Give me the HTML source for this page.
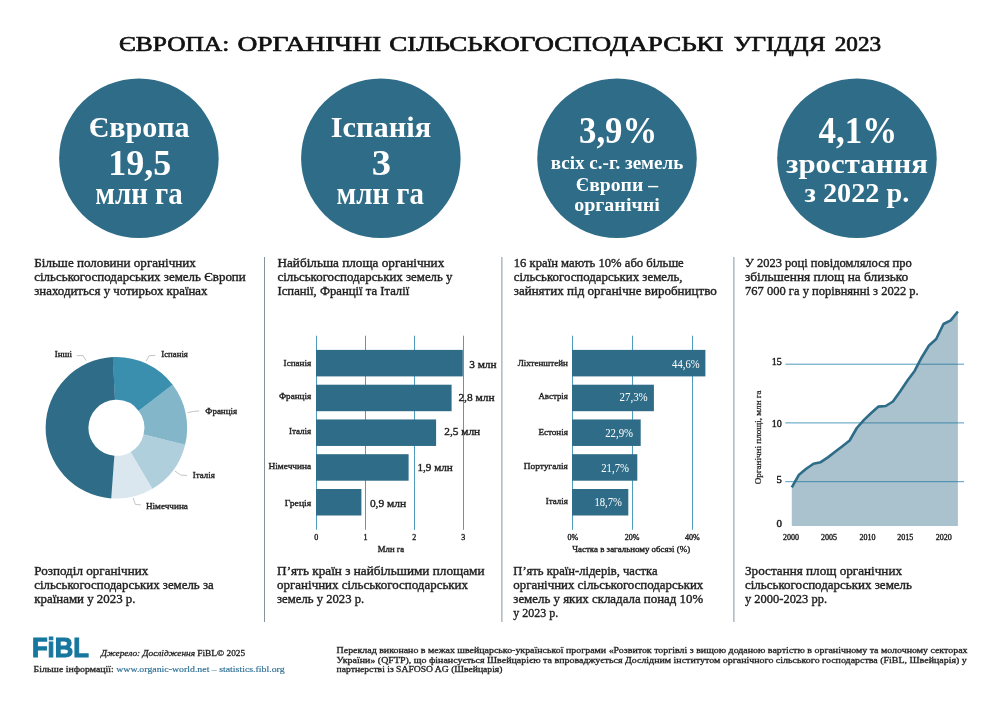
<!DOCTYPE html>
<html lang="uk">
<head>
<meta charset="utf-8">
<title>Європа: органічні сільськогосподарські угіддя 2023</title>
<style>
html,body{margin:0;padding:0;background:#fff;}
body{width:1000px;height:707px;overflow:hidden;}
svg{display:block;font-family:'Liberation Serif', serif;fill:#1f1f1f;}
svg text{white-space:pre;}
</style>
</head>
<body>
<svg width="1000" height="707" viewBox="0 0 1000 707">
<rect width="1000" height="707" fill="#ffffff"/>
<text y="50.8" font-size="22" fill="#111" stroke="#111" stroke-width="0.7"><tspan x="119.0" textLength="110.2" lengthAdjust="spacingAndGlyphs">ЄВРОПА:</tspan> <tspan x="237.4" textLength="143.9" lengthAdjust="spacingAndGlyphs">ОРГАНІЧНІ</tspan> <tspan x="389.3" textLength="334.3" lengthAdjust="spacingAndGlyphs">СІЛЬСЬКОГОСПОДАРСЬКІ</tspan> <tspan x="733.7" textLength="91.7" lengthAdjust="spacingAndGlyphs">УГІДДЯ</tspan> <tspan x="834.7" textLength="46.4" lengthAdjust="spacingAndGlyphs">2023</tspan></text>
<circle cx="138.9" cy="158.25" r="79.75" fill="#2e6c88"/>
<circle cx="380.85" cy="158.25" r="79.75" fill="#2e6c88"/>
<circle cx="617.0" cy="158.25" r="79.75" fill="#2e6c88"/>
<circle cx="856.95" cy="158.25" r="79.75" fill="#2e6c88"/>
<text x="88.70" y="137.20" font-size="29" font-weight="bold" fill="#ffffff" textLength="101.00" lengthAdjust="spacingAndGlyphs">Європа</text>
<text x="108.20" y="174.90" font-size="36.8" font-weight="bold" fill="#ffffff" textLength="63.00" lengthAdjust="spacingAndGlyphs">19,5</text>
<text x="95.20" y="204.20" font-size="30.5" font-weight="bold" fill="#ffffff" textLength="87.50" lengthAdjust="spacingAndGlyphs">млн га</text>
<text x="330.70" y="137.20" font-size="29" font-weight="bold" fill="#ffffff" textLength="100.50" lengthAdjust="spacingAndGlyphs">Іспанія</text>
<text x="371.70" y="174.90" font-size="36.8" font-weight="bold" fill="#ffffff" textLength="19.30" lengthAdjust="spacingAndGlyphs">3</text>
<text x="336.60" y="204.20" font-size="30.5" font-weight="bold" fill="#ffffff" textLength="87.30" lengthAdjust="spacingAndGlyphs">млн га</text>
<text x="579.00" y="142.80" font-size="37.5" font-weight="bold" fill="#ffffff" textLength="78.30" lengthAdjust="spacingAndGlyphs">3,9%</text>
<text x="550.80" y="169.00" font-size="19.5" font-weight="bold" fill="#ffffff" textLength="132.50" lengthAdjust="spacingAndGlyphs">всіх с.-г. земель</text>
<text x="575.80" y="190.70" font-size="19.5" font-weight="bold" fill="#ffffff" textLength="82.20" lengthAdjust="spacingAndGlyphs">Європи –</text>
<text x="574.20" y="211.30" font-size="19.5" font-weight="bold" fill="#ffffff" textLength="85.60" lengthAdjust="spacingAndGlyphs">органічні</text>
<text x="818.60" y="142.80" font-size="37.5" font-weight="bold" fill="#ffffff" textLength="78.70" lengthAdjust="spacingAndGlyphs">4,1%</text>
<text x="786.00" y="172.50" font-size="26.5" font-weight="bold" fill="#ffffff" textLength="141.90" lengthAdjust="spacingAndGlyphs">зростання</text>
<text x="804.60" y="201.90" font-size="27" font-weight="bold" fill="#ffffff" textLength="104.70" lengthAdjust="spacingAndGlyphs">з 2022 р.</text>
<rect x="264.00" y="257.00" width="1.00" height="365.00" fill="#84949d"/>
<rect x="501.40" y="257.00" width="1.00" height="365.00" fill="#84949d"/>
<rect x="733.40" y="257.00" width="1.00" height="365.00" fill="#84949d"/>
<text x="34.25" y="267.45" font-size="12.5" textLength="161.50" lengthAdjust="spacingAndGlyphs" stroke="#1f1f1f" stroke-width="0.38">Більше половини органічних</text>
<text x="34.25" y="281.45" font-size="12.5" textLength="211.50" lengthAdjust="spacingAndGlyphs" stroke="#1f1f1f" stroke-width="0.38">сільськогосподарських земель Європи</text>
<text x="34.25" y="295.45" font-size="12.5" textLength="173.25" lengthAdjust="spacingAndGlyphs" stroke="#1f1f1f" stroke-width="0.38">знаходиться у чотирьох країнах</text>
<text x="277.50" y="267.45" font-size="12.5" textLength="166.75" lengthAdjust="spacingAndGlyphs" stroke="#1f1f1f" stroke-width="0.38">Найбільша площа органічних</text>
<text x="277.50" y="281.45" font-size="12.5" textLength="175.00" lengthAdjust="spacingAndGlyphs" stroke="#1f1f1f" stroke-width="0.38">сільськогосподарських земель у</text>
<text x="277.50" y="295.45" font-size="12.5" textLength="131.75" lengthAdjust="spacingAndGlyphs" stroke="#1f1f1f" stroke-width="0.38">Іспанії, Франції та Італії</text>
<text x="513.75" y="267.45" font-size="12.5" textLength="170.00" lengthAdjust="spacingAndGlyphs" stroke="#1f1f1f" stroke-width="0.38">16 країн мають 10% або більше</text>
<text x="513.75" y="281.45" font-size="12.5" textLength="168.75" lengthAdjust="spacingAndGlyphs" stroke="#1f1f1f" stroke-width="0.38">сільськогосподарських земель,</text>
<text x="513.75" y="295.45" font-size="12.5" textLength="203.00" lengthAdjust="spacingAndGlyphs" stroke="#1f1f1f" stroke-width="0.38">зайнятих під органічне виробництво</text>
<text x="745.00" y="267.45" font-size="12.5" textLength="166.75" lengthAdjust="spacingAndGlyphs" stroke="#1f1f1f" stroke-width="0.38">У 2023 році повідомлялося про</text>
<text x="745.00" y="281.45" font-size="12.5" textLength="163.25" lengthAdjust="spacingAndGlyphs" stroke="#1f1f1f" stroke-width="0.38">збільшення площ на близько</text>
<text x="745.00" y="295.45" font-size="12.5" textLength="173.75" lengthAdjust="spacingAndGlyphs" stroke="#1f1f1f" stroke-width="0.38">767 000 га у порівнянні з 2022 р.</text>
<text x="34.25" y="575.20" font-size="12.5" textLength="114.00" lengthAdjust="spacingAndGlyphs" stroke="#1f1f1f" stroke-width="0.38">Розподіл органічних</text>
<text x="34.25" y="589.20" font-size="12.5" textLength="179.50" lengthAdjust="spacingAndGlyphs" stroke="#1f1f1f" stroke-width="0.38">сільськогосподарських земель за</text>
<text x="34.25" y="603.20" font-size="12.5" textLength="101.25" lengthAdjust="spacingAndGlyphs" stroke="#1f1f1f" stroke-width="0.38">країнами у 2023 р.</text>
<text x="277.10" y="575.20" font-size="12.5" textLength="207.40" lengthAdjust="spacingAndGlyphs" stroke="#1f1f1f" stroke-width="0.38">П’ять країн з найбільшими площами</text>
<text x="277.10" y="589.20" font-size="12.5" textLength="190.90" lengthAdjust="spacingAndGlyphs" stroke="#1f1f1f" stroke-width="0.38">органічних сільськогосподарських</text>
<text x="277.10" y="603.20" font-size="12.5" textLength="87.15" lengthAdjust="spacingAndGlyphs" stroke="#1f1f1f" stroke-width="0.38">земель у 2023 р.</text>
<text x="513.30" y="575.20" font-size="12.5" textLength="144.20" lengthAdjust="spacingAndGlyphs" stroke="#1f1f1f" stroke-width="0.38">П’ять країн-лідерів, частка</text>
<text x="513.30" y="589.20" font-size="12.5" textLength="189.95" lengthAdjust="spacingAndGlyphs" stroke="#1f1f1f" stroke-width="0.38">органічних сільськогосподарських</text>
<text x="513.30" y="603.20" font-size="12.5" textLength="189.95" lengthAdjust="spacingAndGlyphs" stroke="#1f1f1f" stroke-width="0.38">земель у яких складала понад 10%</text>
<text x="513.30" y="617.20" font-size="12.5" textLength="44.95" lengthAdjust="spacingAndGlyphs" stroke="#1f1f1f" stroke-width="0.38">у 2023 р.</text>
<text x="745.00" y="575.20" font-size="12.5" textLength="157.00" lengthAdjust="spacingAndGlyphs" stroke="#1f1f1f" stroke-width="0.38">Зростання площ органічних</text>
<text x="745.00" y="589.20" font-size="12.5" textLength="167.00" lengthAdjust="spacingAndGlyphs" stroke="#1f1f1f" stroke-width="0.38">сільськогосподарських земель</text>
<text x="745.00" y="603.20" font-size="12.5" textLength="82.00" lengthAdjust="spacingAndGlyphs" stroke="#1f1f1f" stroke-width="0.38">у 2000-2023 рр.</text>
<path d="M112.69,357.10 A70.8,70.8 0 0 1 172.87,385.09 L138.73,410.91 A28.0,28.0 0 0 0 114.93,399.84 Z" fill="#3b8fae"/>
<path d="M172.49,384.60 A70.8,70.8 0 0 1 185.07,445.05 L143.56,434.62 A28.0,28.0 0 0 0 138.58,410.72 Z" fill="#84b6ca"/>
<path d="M185.21,444.45 A70.8,70.8 0 0 1 152.01,488.99 L130.48,452.00 A28.0,28.0 0 0 0 143.61,434.38 Z" fill="#b0cfdc"/>
<path d="M152.55,488.68 A70.8,70.8 0 0 1 110.60,498.36 L114.11,455.71 A28.0,28.0 0 0 0 130.70,451.88 Z" fill="#dae7ef"/>
<path d="M111.21,498.41 A70.8,70.8 0 0 1 112.88,357.09 L115.01,399.83 A28.0,28.0 0 0 0 114.35,455.72 Z" fill="#2e6c88"/>
<path d="M86.2,360.6 L83.0,355.6 L76.6,355.7" fill="none" stroke="#b5b5b5" stroke-width="0.8"/>
<path d="M146.2,361.2 L149.0,355.8 L155.4,355.3" fill="none" stroke="#b5b5b5" stroke-width="0.8"/>
<path d="M187.6,412.6 L193.6,411.4 L199.2,411.0" fill="none" stroke="#b5b5b5" stroke-width="0.8"/>
<path d="M174.9,471.0 L180.5,475.0 L186.9,475.5" fill="none" stroke="#b5b5b5" stroke-width="0.8"/>
<path d="M133.1,497.9 L135.3,504.3 L140.9,505.0" fill="none" stroke="#b5b5b5" stroke-width="0.8"/>
<text x="54.80" y="356.80" font-size="9.2" textLength="17.20" lengthAdjust="spacingAndGlyphs" stroke="#1f1f1f" stroke-width="0.38">Інші</text>
<text x="161.30" y="357.30" font-size="9.2" textLength="26.60" lengthAdjust="spacingAndGlyphs" stroke="#1f1f1f" stroke-width="0.38">Іспанія</text>
<text x="205.30" y="413.60" font-size="9.2" textLength="31.80" lengthAdjust="spacingAndGlyphs" stroke="#1f1f1f" stroke-width="0.38">Франція</text>
<text x="192.80" y="478.10" font-size="9.2" textLength="22.00" lengthAdjust="spacingAndGlyphs" stroke="#1f1f1f" stroke-width="0.38">Італія</text>
<text x="145.90" y="508.50" font-size="9.2" textLength="42.00" lengthAdjust="spacingAndGlyphs" stroke="#1f1f1f" stroke-width="0.38">Німеччина</text>
<rect x="316.00" y="335.70" width="1.00" height="194.10" fill="#4f9cbd"/>
<rect x="365.00" y="335.70" width="1.00" height="194.10" fill="#4f9cbd"/>
<rect x="414.00" y="335.70" width="1.00" height="194.10" fill="#4f9cbd"/>
<rect x="463.00" y="335.70" width="1.00" height="194.10" fill="#4f9cbd"/>
<rect x="316.00" y="349.90" width="146.80" height="26.50" fill="#2e6c88"/>
<rect x="316.00" y="384.70" width="135.60" height="26.50" fill="#2e6c88"/>
<rect x="316.00" y="419.45" width="120.10" height="26.50" fill="#2e6c88"/>
<rect x="316.00" y="454.20" width="92.60" height="26.50" fill="#2e6c88"/>
<rect x="316.00" y="489.00" width="45.40" height="26.50" fill="#2e6c88"/>
<text x="283.60" y="365.80" font-size="9.2" textLength="27.60" lengthAdjust="spacingAndGlyphs" stroke="#1f1f1f" stroke-width="0.38">Іспанія</text>
<text x="278.90" y="399.25" font-size="9.2" textLength="32.30" lengthAdjust="spacingAndGlyphs" stroke="#1f1f1f" stroke-width="0.38">Франція</text>
<text x="288.90" y="434.10" font-size="9.2" textLength="22.30" lengthAdjust="spacingAndGlyphs" stroke="#1f1f1f" stroke-width="0.38">Італія</text>
<text x="268.50" y="468.55" font-size="9.2" textLength="42.70" lengthAdjust="spacingAndGlyphs" stroke="#1f1f1f" stroke-width="0.38">Німеччина</text>
<text x="284.80" y="505.70" font-size="9.2" textLength="26.40" lengthAdjust="spacingAndGlyphs" stroke="#1f1f1f" stroke-width="0.38">Греція</text>
<text x="469.20" y="367.80" font-size="11" textLength="27.40" lengthAdjust="spacingAndGlyphs" stroke="#1f1f1f" stroke-width="0.38">3 млн</text>
<text x="458.40" y="400.75" font-size="11" textLength="36.20" lengthAdjust="spacingAndGlyphs" stroke="#1f1f1f" stroke-width="0.38">2,8 млн</text>
<text x="444.30" y="435.20" font-size="11" textLength="35.90" lengthAdjust="spacingAndGlyphs" stroke="#1f1f1f" stroke-width="0.38">2,5 млн</text>
<text x="417.40" y="470.75" font-size="11" textLength="35.40" lengthAdjust="spacingAndGlyphs" stroke="#1f1f1f" stroke-width="0.38">1,9 млн</text>
<text x="369.90" y="507.30" font-size="11" textLength="36.20" lengthAdjust="spacingAndGlyphs" stroke="#1f1f1f" stroke-width="0.38">0,9 млн</text>
<text x="316.30" y="539.80" font-size="8" text-anchor="middle" stroke="#1f1f1f" stroke-width="0.38">0</text>
<text x="365.40" y="539.80" font-size="8" text-anchor="middle" stroke="#1f1f1f" stroke-width="0.38">1</text>
<text x="414.30" y="539.80" font-size="8" text-anchor="middle" stroke="#1f1f1f" stroke-width="0.38">2</text>
<text x="463.30" y="539.80" font-size="8" text-anchor="middle" stroke="#1f1f1f" stroke-width="0.38">3</text>
<text x="377.80" y="552.30" font-size="8.6" textLength="26.40" lengthAdjust="spacingAndGlyphs" stroke="#1f1f1f" stroke-width="0.38">Млн га</text>
<rect x="572.00" y="335.70" width="1.00" height="194.10" fill="#4f9cbd"/>
<rect x="632.00" y="335.70" width="1.00" height="194.10" fill="#4f9cbd"/>
<rect x="692.00" y="335.70" width="1.00" height="194.10" fill="#4f9cbd"/>
<rect x="572.00" y="349.90" width="133.40" height="26.50" fill="#2e6c88"/>
<rect x="572.00" y="384.70" width="81.90" height="26.50" fill="#2e6c88"/>
<rect x="572.00" y="419.45" width="68.70" height="26.50" fill="#2e6c88"/>
<rect x="572.00" y="454.20" width="65.30" height="26.50" fill="#2e6c88"/>
<rect x="572.00" y="489.00" width="56.30" height="26.50" fill="#2e6c88"/>
<text x="517.70" y="365.50" font-size="9.2" textLength="50.20" lengthAdjust="spacingAndGlyphs" stroke="#1f1f1f" stroke-width="0.38">Ліхтенштейн</text>
<text x="538.40" y="399.45" font-size="9.2" textLength="29.50" lengthAdjust="spacingAndGlyphs" stroke="#1f1f1f" stroke-width="0.38">Австрія</text>
<text x="538.40" y="434.70" font-size="9.2" textLength="29.50" lengthAdjust="spacingAndGlyphs" stroke="#1f1f1f" stroke-width="0.38">Естонія</text>
<text x="523.80" y="469.35" font-size="9.2" textLength="44.10" lengthAdjust="spacingAndGlyphs" stroke="#1f1f1f" stroke-width="0.38">Португалія</text>
<text x="545.80" y="504.40" font-size="9.2" textLength="22.10" lengthAdjust="spacingAndGlyphs" stroke="#1f1f1f" stroke-width="0.38">Італія</text>
<text x="672.10" y="367.90" font-size="11.5" fill="#ffffff" textLength="27.50" lengthAdjust="spacingAndGlyphs" stroke="#ffffff" stroke-width="0.01">44,6%</text>
<text x="619.50" y="401.00" font-size="11.5" fill="#ffffff" textLength="28.20" lengthAdjust="spacingAndGlyphs" stroke="#ffffff" stroke-width="0.01">27,3%</text>
<text x="605.20" y="436.50" font-size="11.5" fill="#ffffff" textLength="27.90" lengthAdjust="spacingAndGlyphs" stroke="#ffffff" stroke-width="0.01">22,9%</text>
<text x="601.20" y="471.50" font-size="11.5" fill="#ffffff" textLength="27.80" lengthAdjust="spacingAndGlyphs" stroke="#ffffff" stroke-width="0.01">21,7%</text>
<text x="594.40" y="506.30" font-size="11.5" fill="#ffffff" textLength="27.50" lengthAdjust="spacingAndGlyphs" stroke="#ffffff" stroke-width="0.01">18,7%</text>
<text x="572.80" y="539.60" font-size="8" text-anchor="middle" stroke="#1f1f1f" stroke-width="0.38">0%</text>
<text x="632.00" y="539.60" font-size="8" text-anchor="middle" stroke="#1f1f1f" stroke-width="0.38">20%</text>
<text x="692.40" y="539.60" font-size="8" text-anchor="middle" stroke="#1f1f1f" stroke-width="0.38">40%</text>
<text x="572.30" y="551.70" font-size="8.6" textLength="117.80" lengthAdjust="spacingAndGlyphs" stroke="#1f1f1f" stroke-width="0.38">Частка в загальному обсязі (%)</text>
<line x1="785.30" y1="481.70" x2="964.00" y2="481.70" stroke="#4f9cbd" stroke-width="1"/>
<line x1="785.30" y1="422.90" x2="964.00" y2="422.90" stroke="#4f9cbd" stroke-width="1"/>
<line x1="785.30" y1="364.20" x2="964.00" y2="364.20" stroke="#4f9cbd" stroke-width="1"/>
<polygon points="791.8,526.1 791.8,487.3 799.0,474.7 806.2,468.8 813.5,463.7 820.7,462.2 827.9,457.4 835.1,451.8 842.4,446.2 849.6,440.5 856.8,428.0 864.0,419.9 871.2,413.0 878.5,406.6 885.7,406.0 892.9,401.5 900.1,391.5 907.3,380.8 914.6,370.9 921.8,357.2 929.0,345.5 936.2,339.0 943.5,324.0 950.7,320.4 957.9,311.5 957.9,526.1" fill="#2e6c88" fill-opacity="0.41"/>
<polyline points="791.8,487.3 799.0,474.7 806.2,468.8 813.5,463.7 820.7,462.2 827.9,457.4 835.1,451.8 842.4,446.2 849.6,440.5 856.8,428.0 864.0,419.9 871.2,413.0 878.5,406.6 885.7,406.0 892.9,401.5 900.1,391.5 907.3,380.8 914.6,370.9 921.8,357.2 929.0,345.5 936.2,339.0 943.5,324.0 950.7,320.4 957.9,311.5" fill="none" stroke="#2e6c88" stroke-width="2.6" stroke-linejoin="round" stroke-linecap="butt"/>
<text x="771.80" y="364.50" font-size="10.5" textLength="10.10" lengthAdjust="spacingAndGlyphs" stroke="#1f1f1f" stroke-width="0.45">15</text>
<text x="771.80" y="426.70" font-size="10.5" textLength="10.10" lengthAdjust="spacingAndGlyphs" stroke="#1f1f1f" stroke-width="0.45">10</text>
<text x="776.60" y="482.50" font-size="10.5" textLength="5.30" lengthAdjust="spacingAndGlyphs" stroke="#1f1f1f" stroke-width="0.45">5</text>
<text x="776.40" y="527.10" font-size="10.5" textLength="5.50" lengthAdjust="spacingAndGlyphs" stroke="#1f1f1f" stroke-width="0.45">0</text>
<text x="791.00" y="539.80" font-size="8" text-anchor="middle" stroke="#1f1f1f" stroke-width="0.38">2000</text>
<text x="828.90" y="539.80" font-size="8" text-anchor="middle" stroke="#1f1f1f" stroke-width="0.38">2005</text>
<text x="867.60" y="539.80" font-size="8" text-anchor="middle" stroke="#1f1f1f" stroke-width="0.38">2010</text>
<text x="905.20" y="539.80" font-size="8" text-anchor="middle" stroke="#1f1f1f" stroke-width="0.38">2015</text>
<text x="943.80" y="539.80" font-size="8" text-anchor="middle" stroke="#1f1f1f" stroke-width="0.38">2020</text>
<text transform="translate(761.3,484.3) rotate(-90)" font-size="9" textLength="93.9" lengthAdjust="spacingAndGlyphs" stroke="#1f1f1f" stroke-width="0.25">Органічні площі, млн га</text>
<text x="31.9" y="657.2" font-size="27.8" font-weight="bold" font-family="'Liberation Sans', sans-serif" fill="#17779f" stroke="#17779f" stroke-width="1.1" stroke-linejoin="miter" textLength="57.0" lengthAdjust="spacingAndGlyphs">FiBL</text>
<text x="101.0" y="656.3" font-size="8.8" textLength="144.2" lengthAdjust="spacingAndGlyphs" stroke="#1f1f1f" stroke-width="0.3"><tspan font-style="italic">Джерело: Дослідження</tspan> FiBL© 2025</text>
<text x="33.6" y="672.0" font-size="8.5" textLength="251.0" lengthAdjust="spacingAndGlyphs"><tspan stroke="#1f1f1f" stroke-width="0.3">Більше інформації: </tspan><tspan fill="#2e7096" stroke="#2e7096" stroke-width="0.15">www.organic-world.net – statistics.fibl.org</tspan></text>
<text x="336.60" y="652.80" font-size="8.4" textLength="630.90" lengthAdjust="spacingAndGlyphs" stroke="#1f1f1f" stroke-width="0.3">Переклад виконано в межах швейцарсько-української програми «Розвиток торгівлі з вищою доданою вартістю в органічному та молочному секторах</text>
<text x="336.60" y="662.50" font-size="8.4" textLength="630.20" lengthAdjust="spacingAndGlyphs" stroke="#1f1f1f" stroke-width="0.3">України» (QFTP), що фінансується Швейцарією та впроваджується Дослідним інститутом органічного сільського господарства (FiBL, Швейцарія) у</text>
<text x="336.60" y="672.20" font-size="8.4" textLength="165.90" lengthAdjust="spacingAndGlyphs" stroke="#1f1f1f" stroke-width="0.3">партнерстві із SAFOSO AG (Швейцарія)</text>
</svg>
</body>
</html>
